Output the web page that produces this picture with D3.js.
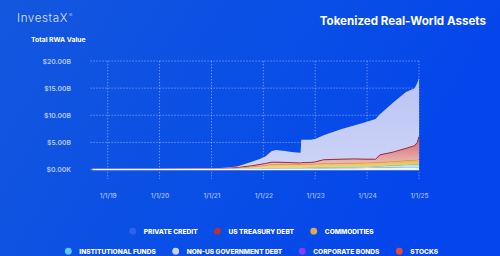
<!DOCTYPE html>
<html>
<head>
<meta charset="utf-8">
<script src="https://cdn.jsdelivr.net/npm/d3@7"></script>
<style>
  html, body { margin: 0; padding: 0; background: #0a50e2; }
  svg { display: block; }
  text { font-family: Inter, "Noto Sans", sans-serif; }
</style>
</head>
<body>
<svg id="chart" width="500" height="256"></svg>
<script>
// Snapshot dates (ISO) for the tokenized RWA series, values in $ billions
const dates = [
  "2018-09-15","2019-06-01","2020-01-01","2020-07-01","2021-01-01","2021-04-01",
  "2021-07-01","2021-10-01","2021-12-01","2022-01-15","2022-03-01","2022-04-01",
  "2022-06-01","2022-08-01","2022-09-20","2022-09-25","2022-12-01","2023-01-01",
  "2023-03-01","2023-07-01","2023-10-01","2024-01-01","2024-03-01","2024-04-01",
  "2024-07-01","2024-10-01","2024-12-01","2024-12-20","2025-01-01"
];
const stocks = [0,0,0,0,0,0,0,0,0,0,0,0,0,0,0,0.01,0.01,0.01,0.01,0.02,0.02,0.02,0.03,0.03,0.04,0.05,0.05,0.05,0.06];
const corporateBonds = [0,0,0,0,0,0,0,0,0,0,0.01,0.01,0.01,0.01,0.01,0.01,0.01,0.02,0.02,0.03,0.03,0.04,0.04,0.04,0.05,0.05,0.05,0.05,0.05];
const nonUsGovDebt = [0.01,0.01,0.01,0.01,0.02,0.02,0.03,0.04,0.05,0.06,0.07,0.08,0.08,0.09,0.1,0.1,0.12,0.13,0.15,0.18,0.2,0.22,0.24,0.26,0.28,0.3,0.3,0.31,0.32];
const institutionalFunds = [0,0.01,0.01,0.02,0.02,0.04,0.05,0.08,0.1,0.12,0.12,0.11,0.13,0.14,0.14,0.15,0.16,0.16,0.17,0.17,0.18,0.17,0.19,0.27,0.38,0.45,0.5,0.49,0.52];
const commodities = [0.01,0.02,0.03,0.03,0.05,0.09,0.17,0.33,0.45,0.57,0.7,0.7,0.68,0.66,0.65,0.68,0.65,0.68,0.7,0.7,0.72,0.75,0.75,0.7,0.7,0.75,0.8,0.85,0.85];
const usTreasuryDebt = [0.01,0.01,0.01,0.02,0.03,0.05,0.1,0.2,0.3,0.35,0.45,0.45,0.4,0.35,0.3,0.3,0.35,0.4,0.75,0.8,0.8,0.7,0.65,1.4,1.75,2.3,2.7,3.25,4.3];
const privateCredit = [0.02,0.03,0.04,0.04,0.08,0.1,0.2,0.7,1.0,1.3,2.05,2.25,2.1,1.95,1.9,4.25,4.2,4.2,4.5,5.5,6.15,6.9,7.4,7.5,9.1,10.4,10.6,11.0,10.7];

// Axis ticks
const yTickValues = [0, 5, 10, 15, 20];
const yTickLabels = ["$0.00K", "$5.00B", "$10.00B", "$15.00B", "$20.00B"];
const xTickDates = ["2019-01-01","2020-01-01","2021-01-01","2022-01-01","2023-01-01","2024-01-01","2025-01-01"];
const xTickLabels = ["1/1/19","1/1/20","1/1/21","1/1/22","1/1/23","1/1/24","1/1/25"];

// Legend rows (label, dot colour)
const legendRow1 = [["PRIVATE CREDIT", "#2f62f2"], ["US TREASURY DEBT", "#b3323c"], ["COMMODITIES", "#e2a94c"]];
const legendRow2 = [["INSTITUTIONAL FUNDS", "#5cc8f6"], ["NON-US GOVERNMENT DEBT", "#c9d1ef"], ["CORPORATE BONDS", "#8b3cf2"], ["STOCKS", "#ea4a2a"]];

const parse = d3.utcParse("%Y-%m-%d");
const keys = ["stocks","corporateBonds","nonUsGovDebt","institutionalFunds","commodities","usTreasuryDebt","privateCredit"];
const seriesByKey = { stocks, corporateBonds, nonUsGovDebt, institutionalFunds, commodities, usTreasuryDebt, privateCredit };
const rows = dates.map((d, i) => {
  const r = { date: parse(d) };
  keys.forEach(k => r[k] = seriesByKey[k][i]);
  return r;
});

const svg = d3.select("#chart");
const defs = svg.append("defs");

// Background
const bg = defs.append("linearGradient").attr("id", "bg").attr("x1", 0).attr("y1", 0).attr("x2", 1).attr("y2", 0.3);
bg.append("stop").attr("offset", 0).attr("stop-color", "#1357de");
bg.append("stop").attr("offset", 0.6).attr("stop-color", "#094ee6");
bg.append("stop").attr("offset", 1).attr("stop-color", "#0445ec");
svg.append("rect").attr("width", 500).attr("height", 256).attr("fill", "url(#bg)");

function vGrad(id, top, bottom) {
  const g = defs.append("linearGradient").attr("id", id).attr("x1", 0).attr("y1", 0).attr("x2", 0).attr("y2", 1);
  g.append("stop").attr("offset", 0).attr("stop-color", top);
  g.append("stop").attr("offset", 1).attr("stop-color", bottom);
}
vGrad("gPC", "#bac4f4", "#cdd4f6");
vGrad("gUST", "#cf6269", "#f1cdc3");
vGrad("gCOM", "#efb648", "#f6da8a");

const fills = {
  stocks: "#f08a70",
  corporateBonds: "#b89af0",
  nonUsGovDebt: "#eef2fa",
  institutionalFunds: "#b6ead6",
  commodities: "url(#gCOM)",
  usTreasuryDebt: "url(#gUST)",
  privateCredit: "url(#gPC)"
};

const x = d3.scaleUtc()
  .domain([parse("2018-09-01"), parse("2025-01-10")])
  .range([90.4, 420.3]);
const y = d3.scaleLinear().domain([0, 20]).range([169.5, 61]);

// Gridlines
const grid = svg.append("g").attr("stroke", "rgba(255,255,255,0.5)").attr("stroke-width", 0.8).attr("stroke-dasharray", "1.4,1.6");
grid.selectAll(".h").data(yTickValues).join("line")
  .attr("x1", x.range()[0]).attr("x2", x.range()[1])
  .attr("y1", d => y(d)).attr("y2", d => y(d));
grid.selectAll(".v").data(xTickDates).join("line")
  .attr("x1", d => x(parse(d))).attr("x2", d => x(parse(d)))
  .attr("y1", y(20)).attr("y2", 179);

// Stacked areas
const stack = d3.stack().keys(keys)(rows);
const area = d3.area()
  .x(d => x(d.data.date))
  .y0(d => y(d[0]))
  .y1(d => y(d[1]));
svg.append("g").selectAll("path").data(stack).join("path")
  .attr("fill", d => fills[d.key])
  .attr("d", area);

const topLine = d3.line().x(d => x(d.data.date)).y(d => y(d[1]));
const layer = k => stack.find(s => s.key === k);
svg.append("path").datum(layer("usTreasuryDebt"))
  .attr("fill", "none").attr("stroke", "#a3283a").attr("stroke-width", 1).attr("d", topLine);
svg.append("path").datum(layer("commodities"))
  .attr("fill", "none").attr("stroke", "#e79b3c").attr("stroke-width", 0.7).attr("d", topLine);
svg.append("path").datum(layer("institutionalFunds"))
  .attr("fill", "none").attr("stroke", "#8fdcc8").attr("stroke-width", 0.5).attr("d", topLine);
const baseLine = d3.line().x(d => x(d.data.date)).y(d => y(d[0]));
svg.append("path").datum(layer("stocks"))
  .attr("fill", "none").attr("stroke", "#f4f6fb").attr("stroke-width", 1.3).attr("d", baseLine);

// Y axis
const yAxis = d3.axisLeft(y).tickValues(yTickValues).tickSize(0).tickPadding(0)
  .tickFormat((d, i) => yTickLabels[i]);
const yg = svg.append("g").attr("transform", "translate(71,0)").call(yAxis);
yg.select(".domain").remove();
yg.selectAll("text").attr("fill", "rgba(235,240,255,0.78)").attr("font-size", 6.8).attr("font-weight", 600)
  .attr("font-family", "Inter, sans-serif");

// X axis
const xAxis = d3.axisBottom(x).tickValues(xTickDates.map(parse)).tickSize(0).tickPadding(0)
  .tickFormat((d, i) => xTickLabels[i]);
const xg = svg.append("g").attr("transform", "translate(0,193.5)").call(xAxis);
xg.select(".domain").remove();
xg.selectAll("text").attr("fill", "rgba(235,240,255,0.72)").attr("font-size", 6.5).attr("font-weight", 500)
  .attr("font-family", "Inter, sans-serif").attr("dy", "0.71em");

// Titles
const brand = svg.append("text").attr("x", 17).attr("y", 22)
  .attr("fill", "rgba(240,244,255,0.92)").attr("font-family", "Lato, Inter, sans-serif")
  .attr("font-weight", 300).attr("font-size", 11.6).attr("letter-spacing", 0.6);
brand.append("tspan").text("InvestaX");
brand.append("tspan").attr("font-size", 5).attr("dy", -5).attr("dx", 1).text("®");

svg.append("text").attr("x", 486).attr("y", 25).attr("text-anchor", "end")
  .attr("fill", "#ffffff").attr("font-weight", 700).attr("font-size", 11.6)
  .text("Tokenized Real-World Assets");

svg.append("text").attr("x", 31).attr("y", 42)
  .attr("fill", "#ffffff").attr("font-weight", 700).attr("font-size", 6.8)
  .text("Total RWA Value");

// Legend
function drawLegend(items, baseline, centerX) {
  const g = svg.append("g");
  const gapDot = 11, gapItem = 16.5, r = 3.4;
  const parts = items.map(([label, color]) => {
    const t = g.append("text").attr("y", baseline).attr("fill", "#ffffff")
      .attr("font-weight", 800).attr("font-size", 6.6).text(label);
    return { t, color, w: t.node().getComputedTextLength() };
  });
  const total = parts.reduce((s, p) => s + r + gapDot + p.w, 0) + gapItem * (parts.length - 1);
  let cx = centerX - total / 2;
  parts.forEach(p => {
    g.append("circle").attr("cx", cx + r).attr("cy", baseline - 2.5).attr("r", r).attr("fill", p.color);
    p.t.attr("x", cx + r + gapDot);
    cx += r + gapDot + p.w + gapItem;
  });
}
drawLegend(legendRow1, 233.7, 251.5);
drawLegend(legendRow2, 253.7, 251.5);
</script>
</body>
</html>
